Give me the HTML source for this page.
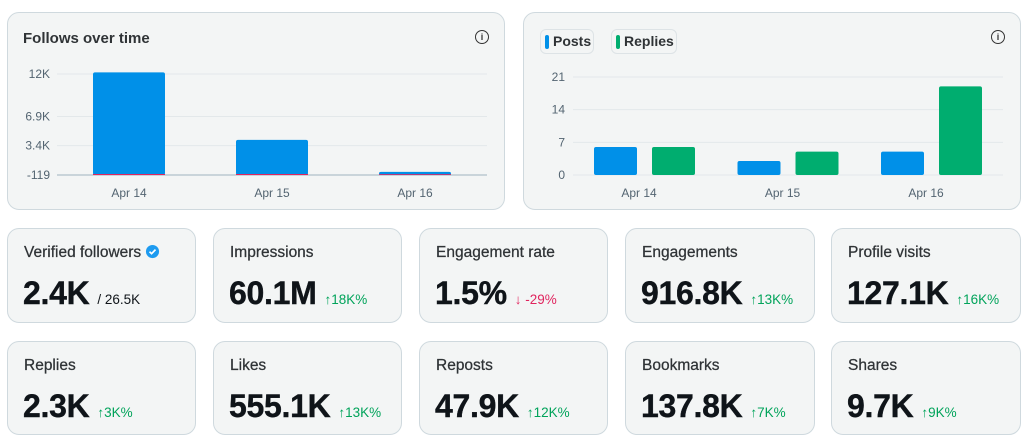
<!DOCTYPE html>
<html><head><meta charset="utf-8"><style>
*{box-sizing:border-box;margin:0;padding:0}
body{width:1034px;height:442px;background:#fff;font-family:"Liberation Sans",sans-serif;position:relative;overflow:hidden;color:#0f1419}
.card{position:absolute;background:#f3f5f5;border:1px solid #cfd9de;border-radius:12px}
.title{position:absolute;left:15px;top:17px;font-size:15px;font-weight:bold;color:#2f3336}
.info{position:absolute;width:14px;height:14px;border:1.4px solid #333;border-radius:50%;font-size:9px;line-height:12px;text-align:center;font-weight:bold;color:#333}
.stat .lbl{position:absolute;left:16px;top:15px;font-size:15.5px;color:#2f3336;-webkit-text-stroke:0.25px #2f3336}
.stat .val{position:absolute;left:15px;top:46px;font-size:32px;font-weight:bold;letter-spacing:-0.3px;white-space:nowrap;-webkit-text-stroke:0.4px #0f1419}
.stat .val span{font-size:13.5px;font-weight:normal;margin-left:8px;letter-spacing:0;-webkit-text-stroke:0}
.up{color:#00a35a}.down{color:#e0245e}
.leg{position:absolute;top:16px;height:25px;border:1px solid #dde3e6;border-radius:6px;font-size:14px;font-weight:bold;color:#2f3336;line-height:23px;padding-left:12px;padding-right:6px}
.leg i{position:absolute;left:4px;top:5px;width:4px;height:14px;border-radius:2px}
svg text{font-family:"Liberation Sans",sans-serif}
</style></head><body>

<div class="card" style="left:7px;top:12px;width:498px;height:198px">
<div class="title">Follows over time</div>
<div class="info" style="left:467px;top:17px">i</div>
</div>
<div class="card" style="left:523px;top:12px;width:498px;height:198px">
<div class="leg" style="left:16px;width:54px"><i style="background:#0090e8"></i>Posts</div>
<div class="leg" style="left:87px;width:66px"><i style="background:#00ad6f"></i>Replies</div>
<div class="info" style="left:467px;top:17px">i</div>
</div>

<svg id="chart" width="1034" height="220" style="position:absolute;left:0;top:0"></svg>

<script>
const fCats=["Apr 14","Apr 15","Apr 16"];
const fFollows=[12200,4100,250];
const fUnfollows=[-60,-60,-40];
const fTicks=[12000,6900,3400,-119];
const fTickLabels=["12K","6.9K","3.4K","-119"];
const pCats=["Apr 14","Apr 15","Apr 16"];
const pPosts=[6,3,5];
const pReplies=[6,5,19];
const pTicks=[21,14,7,0];

const svg=document.getElementById('chart');
const NS='http://www.w3.org/2000/svg';
function mk(t,a,p){const e=document.createElementNS(NS,t);for(const k in a)e.setAttribute(k,a[k]);(p||svg).appendChild(e);return e;}

const fy=v=>175-(v+119)*(101/12119);
const fx=i=>129+i*143;
fTicks.forEach((t,i)=>{
 const y=fy(t);
 const l=mk('line',{x1:57,x2:487,y1:y,y2:y,stroke:i==fTicks.length-1?'#9fb3bf':'#e3e8ea','stroke-width':1});
 
 const tx=mk('text',{x:50,y:y+4,'text-anchor':'end','font-size':12,fill:'#536471'});tx.textContent=fTickLabels[i];
 
});
fCats.forEach((c,i)=>{
 const y0=fy(-119),y1=fy(fFollows[i]);
 const r=mk('rect',{x:fx(i)-36,y:y1,width:72,height:Math.max(1.5,y0-y1),rx:2,fill:'#0090e8'});
 
 const uh=Math.max(0.8,Math.abs(fUnfollows[i])*(101/12119)*2);
 const u=mk('rect',{x:fx(i)-36,y:y0-uh,width:72,height:uh,fill:'#e0245e'});
 
 const t=mk('text',{x:fx(i),y:197,'text-anchor':'middle','font-size':12,fill:'#536471'});t.textContent=c;
 
});

const py=v=>175-v*(98/21);
const px=i=>644+i*143.5;
pTicks.forEach(t=>{
 const y=py(t);
 const l=mk('line',{x1:573,x2:1003,y1:y,y2:y,stroke:'#e3e8ea','stroke-width':1});
 
 const tx=mk('text',{x:565,y:y+4,'text-anchor':'end','font-size':12,fill:'#536471'});tx.textContent=t;
 
});
pCats.forEach((c,i)=>{
 const a=mk('rect',{x:px(i)-50,y:py(pPosts[i]),width:43,height:py(0)-py(pPosts[i]),rx:2,fill:'#0090e8'});
 
 const b=mk('rect',{x:px(i)+8,y:py(pReplies[i]),width:43,height:py(0)-py(pReplies[i]),rx:2,fill:'#00ad6f'});
 
 const t=mk('text',{x:px(i)-5,y:197,'text-anchor':'middle','font-size':12,fill:'#536471'});t.textContent=c;
 
});
</script>

<div class="card stat" style="left:7px;top:228px;width:189px;height:95px"><div class="lbl">Verified followers <svg width="15" height="15" viewBox="0 0 16 16" style="vertical-align:-2px"><circle cx="8" cy="8" r="7" fill="#1d9bf0"/><path d="M4.8 8.2l2.2 2.1 4.2-4.3" stroke="#fff" stroke-width="1.8" fill="none"/></svg></div><div class="val">2.4K<span style="color:#0f1419">/ 26.5K</span></div></div>
<div class="card stat" style="left:213px;top:228px;width:189px;height:95px"><div class="lbl">Impressions</div><div class="val">60.1M<span class="up">↑18K%</span></div></div>
<div class="card stat" style="left:419px;top:228px;width:189px;height:95px"><div class="lbl">Engagement rate</div><div class="val">1.5%<span class="down">↓ -29%</span></div></div>
<div class="card stat" style="left:625px;top:228px;width:190px;height:95px"><div class="lbl">Engagements</div><div class="val">916.8K<span class="up">↑13K%</span></div></div>
<div class="card stat" style="left:831px;top:228px;width:190px;height:95px"><div class="lbl">Profile visits</div><div class="val">127.1K<span class="up">↑16K%</span></div></div>

<div class="card stat" style="left:7px;top:341px;width:189px;height:94px"><div class="lbl">Replies</div><div class="val">2.3K<span class="up">↑3K%</span></div></div>
<div class="card stat" style="left:213px;top:341px;width:189px;height:94px"><div class="lbl">Likes</div><div class="val">555.1K<span class="up">↑13K%</span></div></div>
<div class="card stat" style="left:419px;top:341px;width:189px;height:94px"><div class="lbl">Reposts</div><div class="val">47.9K<span class="up">↑12K%</span></div></div>
<div class="card stat" style="left:625px;top:341px;width:190px;height:94px"><div class="lbl">Bookmarks</div><div class="val">137.8K<span class="up">↑7K%</span></div></div>
<div class="card stat" style="left:831px;top:341px;width:190px;height:94px"><div class="lbl">Shares</div><div class="val">9.7K<span class="up">↑9K%</span></div></div>
</body></html>
